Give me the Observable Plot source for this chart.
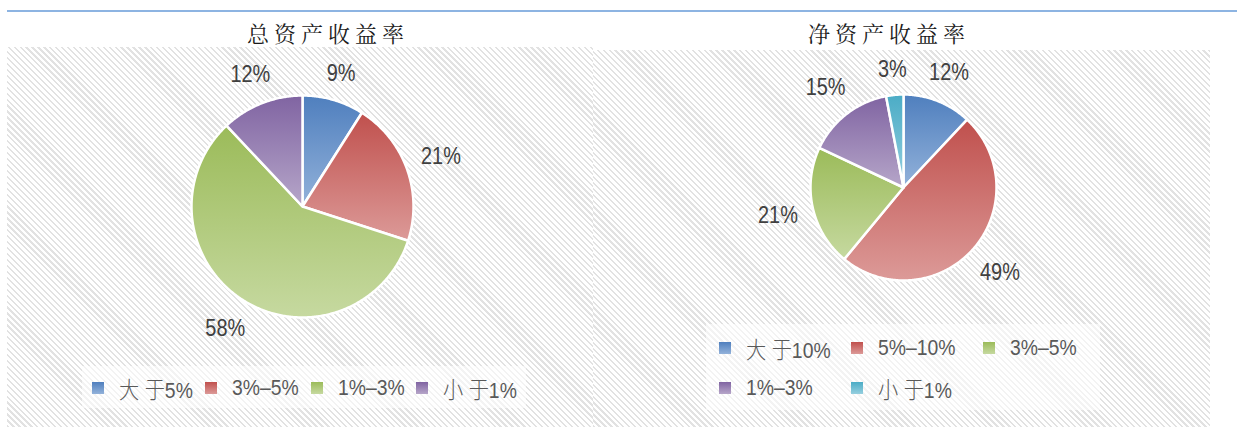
<!DOCTYPE html>
<html>
<head>
<meta charset="utf-8">
<script src="https://cdn.jsdelivr.net/npm/d3@7"></script>
<script src="https://cdn.jsdelivr.net/npm/@observablehq/plot@0.6"></script>
<style>
  html, body { margin: 0; padding: 0; background: #fff; }
  #root { position: relative; width: 1237px; height: 427px; overflow: hidden; }
  .topline { position: absolute; left: 7px; top: 10px; width: 1230px; height: 2px; background: #8db4e2; }
  .panel { position: absolute;
    background: repeating-linear-gradient(45deg, #e2e2e2 0px, #e2e2e2 1.6px, #ffffff 1.6px, #ffffff 4.2px); }
  .title { position: absolute; width: 400px; text-align: center;
    font-family: "Noto Serif CJK SC", "Noto Sans CJK SC", serif; font-size: 22px; letter-spacing: 5px;
    color: #1a1a1a; line-height: 24px; }
  .legendbox { position: absolute; background: rgba(255,255,255,0.6); }
  .sw { position: absolute; width: 12px; height: 12px; }
  .ltext { position: absolute; white-space: pre; font-family: "Liberation Sans", Arial, "Noto Sans CJK SC", sans-serif;
    font-size: 22px; color: #595959; line-height: 24px; transform-origin: 0 50%; }
  .cjk { font-family: "Noto Sans CJK SC", sans-serif; font-size: 23px; font-weight: 300; }
  #plot { position: absolute; left: 0; top: 0; }
</style>
</head>
<body>
<div id="root">
  <div class="topline"></div>
  <div class="panel" style="left:7px;top:47px;width:586px;height:380px;"></div>
  <div class="panel" style="left:593px;top:50px;width:617px;height:377px;"></div>
  <div class="legendbox" style="left:82px;top:366px;width:444px;height:42px;"></div>
  <div class="legendbox" style="left:706px;top:324px;width:394px;height:86px;"></div>
  <div id="plot"></div>
</div>
<script>
// ---- data ----
const titles = ["总资产收益率", "净资产收益率"];
const roaCategories = ["大 于5%", "3%–5%", "1%–3%", "小 于1%"];
const roaValues = [9, 21, 58, 12];
const roeCategories = ["大 于10%", "5%–10%", "3%–5%", "1%–3%", "小 于1%"];
const roeValues = [12, 49, 21, 15, 3];

// ---- styles ----
const gradTop    = ["#4f7fbe", "#c0504d", "#9bbb59", "#8064a2", "#4bacc6"];
const gradBottom = ["#93b2da", "#dc9a98", "#c6d9a0", "#b6a6c9", "#96cfdf"];
const narrow = 0.83;       // pie label condensing
const legendNarrow = 0.88; // legend text condensing

// ---- layout ----
const W = 1237, H = 427;
const pies = [
  {cats: roaCategories, vals: roaValues, cx: 302, cy: 206, r: 111, key: "roa", titleX: 328},
  {cats: roeCategories, vals: roeValues, cx: 903, cy: 187, r: 93, key: "roe", titleX: 889}
];
const labelFont = 24, labelGap = 14;
function textWidth(s) {
  let w = 0;
  for (const ch of s) w += (ch === "%" ? 0.889 : 0.556) * labelFont * narrow;
  return w;
}

const sliceRows = [], labelRows = [];
for (const p of pies) {
  const arcs = d3.pie().sort(null).value(d => d)(p.vals);
  arcs.forEach((a, i) => {
    const id = `${p.key}-${i}`;
    const fill = `url(#grad${i})`;
    sliceRows.push({id, x: p.cx, y: p.cy, fill});
    const n = Math.max(2, Math.ceil((a.endAngle - a.startAngle) / 0.01));
    for (let k = 0; k <= n; k++) {
      const t = a.startAngle + (a.endAngle - a.startAngle) * k / n;
      sliceRows.push({id, x: p.cx + p.r * Math.sin(t), y: p.cy - p.r * Math.cos(t), fill});
    }
    const t = (a.startAngle + a.endAngle) / 2;
    const text = `${p.vals[i]}%`;
    const w = textWidth(text), h = 20;
    const d = p.r + labelGap + (w / 2) * Math.abs(Math.sin(t)) + (h / 2) * Math.abs(Math.cos(t));
    labelRows.push({x: p.cx + d * Math.sin(t), y: p.cy - d * Math.cos(t), text});
  });
}

const chart = Plot.plot({
  width: W, height: H, margin: 0,
  x: {domain: [0, W], range: [0, W], axis: null},
  y: {domain: [0, H], range: [0, H], axis: null},
  color: {type: "identity"},
  style: {background: "transparent", overflow: "visible"},
  marks: [
    Plot.line(sliceRows, {x: "x", y: "y", z: "id", fill: "fill", stroke: "white",
      strokeWidth: 2.5, strokeLinejoin: "round", curve: "linear-closed"}),
    Plot.text(labelRows, {x: "x", y: "y", text: "text", fill: "#404040",
      fontSize: labelFont, fontFamily: "'Liberation Sans', Arial, sans-serif"})
  ]
});

// condense the label glyphs horizontally (narrow font look)
d3.select(chart).selectAll("g[aria-label=text] text").each(function() {
  const tr = this.getAttribute("transform");
  if (tr) this.setAttribute("transform", `${tr} scale(${narrow},1)`);
  else {
    const x = +this.getAttribute("x") || 0, y = +this.getAttribute("y") || 0;
    this.removeAttribute("x"); this.removeAttribute("y");
    this.setAttribute("transform", `translate(${x},${y}) scale(${narrow},1)`);
  }
});

const defs = d3.select(chart).insert("defs", ":first-child");
gradTop.forEach((c, i) => {
  const g = defs.append("linearGradient").attr("id", `grad${i}`)
    .attr("x1", 0).attr("y1", 0).attr("x2", 0).attr("y2", 1);
  g.append("stop").attr("offset", 0).attr("stop-color", c);
  g.append("stop").attr("offset", 1).attr("stop-color", gradBottom[i]);
});
document.getElementById("plot").appendChild(chart);

// ---- titles ----
const root = document.getElementById("root");
pies.forEach((p, k) => {
  const t = document.createElement("div");
  t.className = "title";
  t.style.left = (p.titleX - 200) + "px";
  t.style.top = "21px";
  t.textContent = titles[k];
  root.appendChild(t);
});

// ---- legends ----
function legendItem(label, i, left, cy) {
  const sw = document.createElement("div");
  sw.className = "sw";
  sw.style.left = left + "px";
  sw.style.top = (cy - 6) + "px";
  sw.style.background = `linear-gradient(to bottom, ${gradTop[i]}, ${gradBottom[i]})`;
  root.appendChild(sw);
  const tx = document.createElement("div");
  tx.className = "ltext";
  tx.style.left = (left + 27) + "px";
  tx.style.top = (cy - 12) + "px";
  tx.style.transform = `scaleX(${legendNarrow})`;
  for (const part of label.split(/([\u4e00-\u9fff])/)) {
    if (!part) continue;
    const s = document.createElement("span");
    if (/[\u4e00-\u9fff]/.test(part)) s.className = "cjk";
    s.textContent = part;
    tx.appendChild(s);
  }
  root.appendChild(tx);
  return tx.getBoundingClientRect().right - root.getBoundingClientRect().left;
}
// left legend: one row, flowing
{
  let x = 92;
  roaCategories.forEach((c, i) => {
    const right = legendItem(c, i, x, 388);
    x = right + 12;
  });
}
// right legend: grid of 3 columns
roeCategories.forEach((c, i) => {
  const col = i % 3, row = Math.floor(i / 3);
  legendItem(c, i, 719 + col * 132, 348 + row * 40);
});
</script>
</body>
</html>
